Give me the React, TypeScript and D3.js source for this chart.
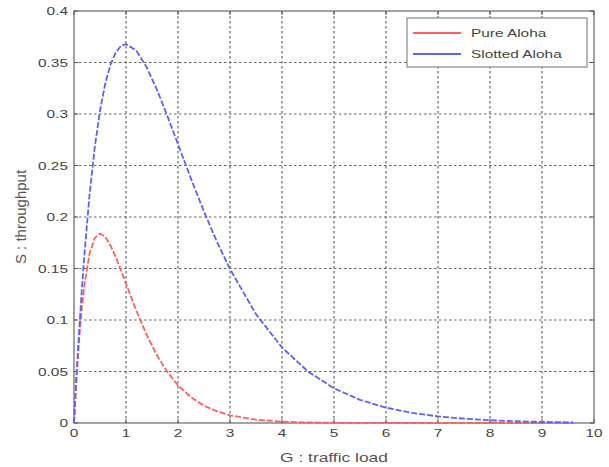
import React from "react";
import * as d3 from "d3";

const G = [0, 0.02, 0.05, 0.1, 0.15, 0.2, 0.3, 0.4, 0.5, 0.6, 0.7, 0.8, 0.9, 1.0, 1.2, 1.4, 1.6, 1.8, 2.0, 2.25, 2.5, 2.75, 3.0, 3.5, 4.0, 4.5, 5, 5.5, 6, 6.5, 7, 7.5, 8, 8.5, 9, 9.6];
const pureAloha = [0, 0.0192, 0.0452, 0.0819, 0.1111, 0.1341, 0.1646, 0.1797, 0.1839, 0.1807, 0.1726, 0.1615, 0.1488, 0.1353, 0.1089, 0.0852, 0.0652, 0.0492, 0.0366, 0.025, 0.0168, 0.0113, 0.0074, 0.0032, 0.0013, 0.0006, 0.0002, 0.0001, 0, 0, 0, 0, 0, 0, 0, 0];
const slottedAloha = [0, 0.0196, 0.0476, 0.0905, 0.1291, 0.1637, 0.2222, 0.2681, 0.3033, 0.3293, 0.3476, 0.3595, 0.3659, 0.3679, 0.3614, 0.3452, 0.323, 0.2975, 0.2707, 0.2371, 0.2052, 0.1758, 0.1494, 0.1057, 0.0733, 0.05, 0.0337, 0.0225, 0.0149, 0.0098, 0.0064, 0.0042, 0.0027, 0.0017, 0.0011, 0.0006];
const xTicks = [0, 1, 2, 3, 4, 5, 6, 7, 8, 9, 10];
const yTicks = [0, 0.05, 0.1, 0.15, 0.2, 0.25, 0.3, 0.35, 0.4];
const seriesNames = ["Pure Aloha", "Slotted Aloha"];
const seriesColors = ["#ff5f5f", "#5f5fff"];

const SX = 1.4;

function WideText(props: { x: number; y: number; size: number; anchor?: string; fill?: string; sx?: number; children: React.ReactNode }) {
  const { x, y, size, anchor = "start", fill = "#444", sx = SX, children } = props;
  return (
    <g transform={`translate(${x},${y}) scale(${sx},1)`}>
      <text x={0} y={0} fontSize={size} fill={fill} textAnchor={anchor as any}>{children}</text>
    </g>
  );
}

export default function App() {
  const left = 74, right = 594, top = 11, bottom = 423;
  const x = d3.scaleLinear().domain([0, 10]).range([left, right]);
  const y = d3.scaleLinear().domain([0, 0.4]).range([bottom, top]);
  const line = d3.line<number>().x((_, i) => x(G[i])).y((d) => y(d));
  const series = [pureAloha, slottedAloha];
  const font = "'Liberation Sans', Arial, sans-serif";
  const fmtY = (v: number) => (v === 0 ? "0" : String(v));
  return (
    <svg width={609} height={467} style={{ position: "absolute", left: 0, top: 0, background: "#fff" }} fontFamily={font}>
      {xTicks.slice(1, -1).map((t) => (
        <line key={"gx" + t} x1={x(t)} x2={x(t)} y1={top} y2={bottom} stroke="#666" strokeWidth={1.2} strokeDasharray="2.5,2.5" />
      ))}
      {yTicks.slice(1, -1).map((t) => (
        <line key={"gy" + t} x1={left} x2={right} y1={y(t)} y2={y(t)} stroke="#666" strokeWidth={1.2} strokeDasharray="2.5,2.5" />
      ))}
      <rect x={left} y={top} width={right - left} height={bottom - top} fill="none" stroke="#666" strokeWidth={1.2} />
      {xTicks.map((t) => (
        <g key={"tx" + t}>
          <line x1={x(t)} x2={x(t)} y1={bottom} y2={bottom - 4} stroke="#555" />
          <line x1={x(t)} x2={x(t)} y1={top} y2={top + 4} stroke="#555" />
          <WideText x={x(t)} y={437} size={11} anchor="middle">{t}</WideText>
        </g>
      ))}
      {yTicks.map((t) => (
        <g key={"ty" + t}>
          <line x1={left} x2={left + 4} y1={y(t)} y2={y(t)} stroke="#555" />
          <line x1={right} x2={right - 4} y1={y(t)} y2={y(t)} stroke="#555" />
          <WideText x={68} y={y(t) + 4} size={11} anchor="end">{fmtY(t)}</WideText>
        </g>
      ))}
      {series.map((s, i) => (
        <path key={"s" + i} d={line(s) || ""} fill="none" stroke={seriesColors[i]} strokeWidth={1.8} strokeDasharray="6,2" />
      ))}
      <WideText x={(left + right) / 2} y={462} size={12} anchor="middle" fill="#555" sx={1.45}>G : traffic load</WideText>
      <g transform={`translate(26, ${(top + bottom) / 2}) rotate(-90)`}>
        <text x={0} y={0} fontSize={15} fill="#555" textAnchor="middle">S : throughput</text>
      </g>
      <rect x={407} y={18} width={180} height={49} fill="#fff" stroke="#888" strokeWidth={1.2} />
      {seriesNames.map((n, i) => (
        <g key={"l" + i}>
          <line x1={413} x2={461} y1={33 + i * 21} y2={33 + i * 21} stroke={seriesColors[i]} strokeWidth={1.8} />
          <WideText x={471} y={33 + i * 21 + 4} size={11}>{n}</WideText>
        </g>
      ))}
    </svg>
  );
}
